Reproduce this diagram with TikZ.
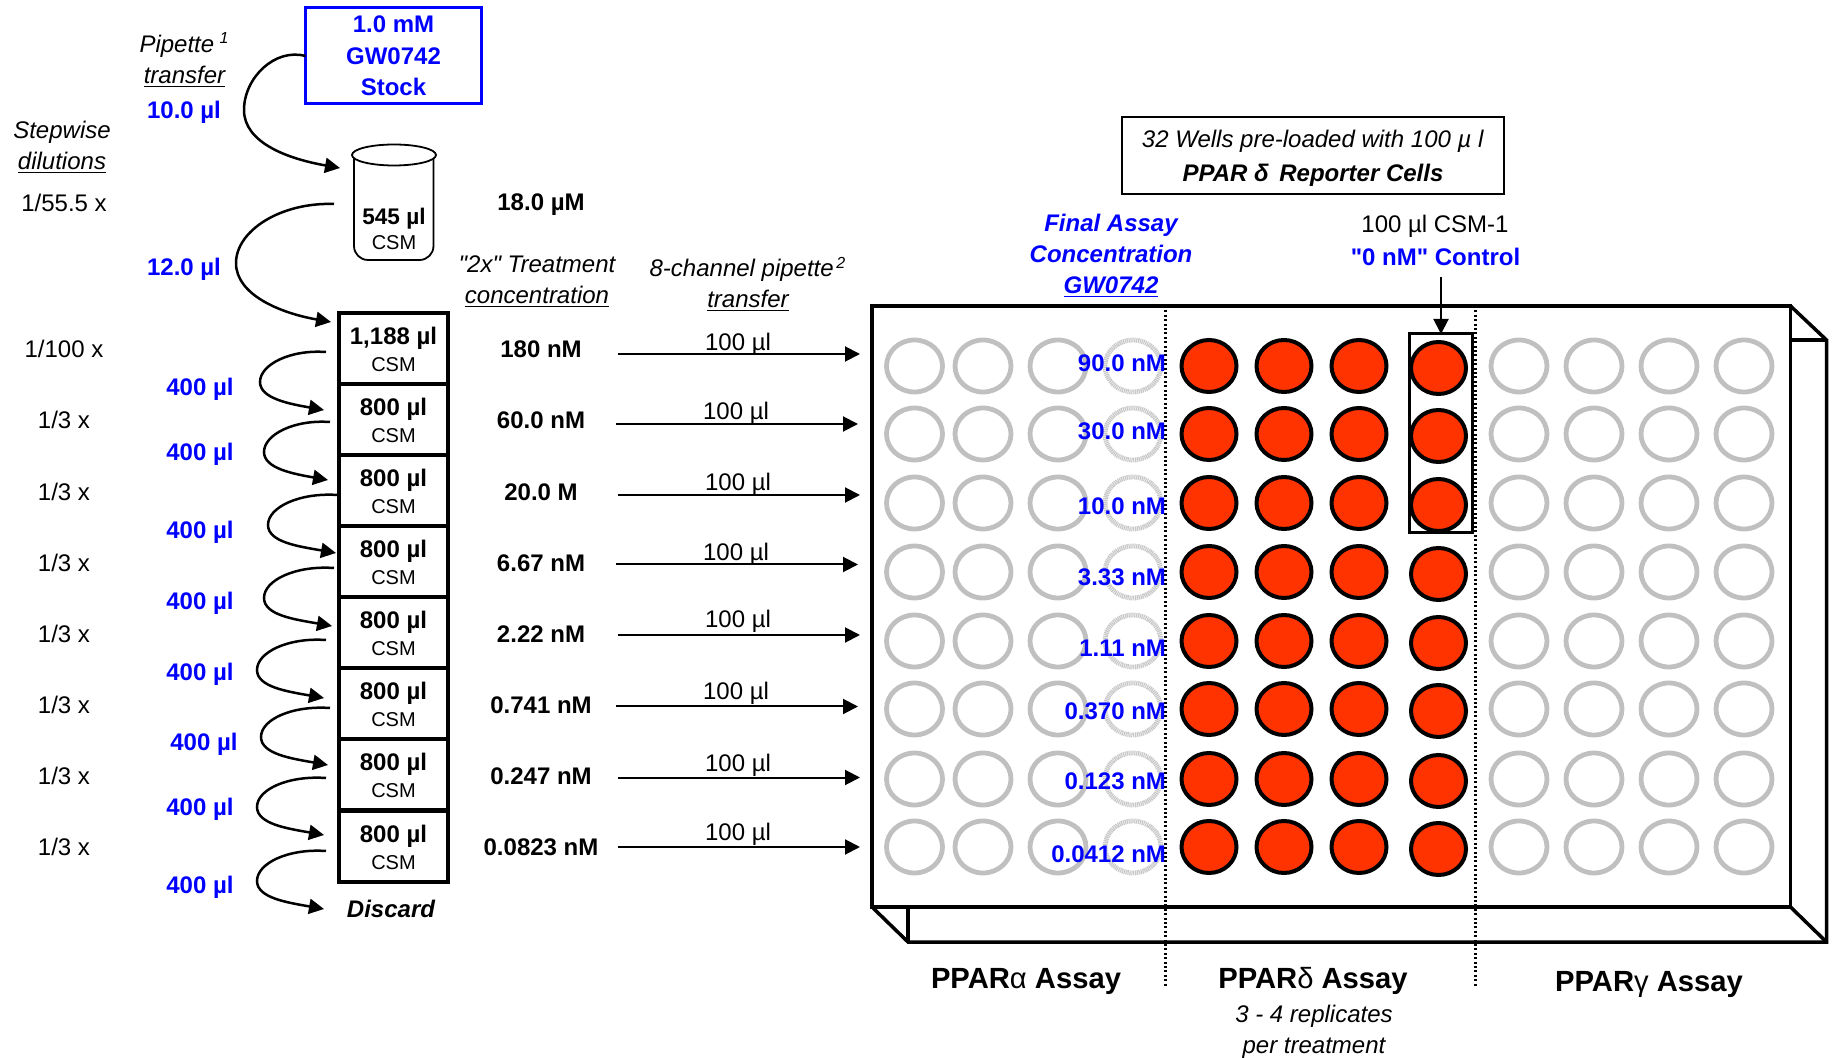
\documentclass[tikz,border=0pt]{standalone}
\usepackage{fontspec}
\setmainfont[Ligatures=TeXOff]{Liberation Sans}
\usetikzlibrary{arrows.meta,shapes.geometric}
\definecolor{pblue}{HTML}{0000FF}
\definecolor{wgray}{HTML}{C0C0C0}
\definecolor{wlight}{HTML}{C8C8C8}
\definecolor{wred}{HTML}{FF3300}
\tikzset{
  x=0.5pt,y=-0.5pt,
  every node/.style={inner sep=0pt,outer sep=0pt},
  lab/.style={font=\fontsize{12}{15.5}\selectfont,text height=8.6pt,text depth=0pt},
  multi/.style={font=\fontsize{12}{15.5}\selectfont,align=center},
  vollab/.style={lab,font=\fontsize{12}{15.5}\selectfont\bfseries,text=pblue},
  conc/.style={lab,font=\fontsize{12}{15.5}\selectfont\bfseries},
  final/.style={lab,font=\fontsize{12}{15.5}\selectfont\bfseries,text=pblue,anchor=east},
  assay/.style={lab,font=\fontsize{14.6}{16}\selectfont\bfseries},
  graywell/.style={ellipse,draw=wgray,line width=2.4pt,minimum width=28pt,minimum height=26pt},
  lightwell/.style={ellipse,draw=wlight,line width=2.4pt,dash pattern=on 0.6pt off 0.35pt,minimum width=28pt,minimum height=26pt},
  redwell/.style={ellipse,draw=black,fill=wred,line width=2pt,minimum width=27.5pt,minimum height=26pt},
  tube/.style={draw=black,line width=2pt,minimum width=54.5pt,minimum height=35.5pt,align=center,
    font=\fontsize{12}{13.5}\selectfont},
  curve/.style={line width=1.25pt,-{Triangle[length=7.5pt,width=7.5pt]}},
  straight/.style={line width=1pt,-{Triangle[length=7.5pt,width=7.5pt]}},
  plateline/.style={line width=1.75pt,line join=miter},
  divider/.style={line width=1.1pt,dash pattern=on 1pt off 1.2pt},
}
\begin{document}
\begin{tikzpicture}
\useasboundingbox (0,0) rectangle (1832,1058);

% wells
\foreach \r/\yy in {1/366,2/434,3/503,4/572,5/641,6/709,7/779,8/847}{
  \foreach \c/\xx in {1/914.5,2/983,3/1058,9/1519,10/1594,11/1669,12/1744}{
    \node[graywell] (w\c-\r) at (\xx,\yy) {};
  }
  \node[lightwell] (w4-\r) at (1133,\yy) {};
  \foreach \c/\xx in {5/1209,6/1284,7/1359}{
    \node[redwell] (w\c-\r) at (\xx,\yy) {};
  }
  \pgfmathsetmacro{\yb}{\yy+2}
  \node[redwell] (w8-\r) at (1438.5,\yb) {};
}

% plate
\draw[plateline] (872,306) rectangle (1790.5,907);
\draw[plateline] (1790.5,306) -- (1826.5,340) -- (1826.5,942) -- (908,942) -- (872,907);
\draw[plateline] (1790.5,340) -- (1826.5,340);
\draw[plateline] (908,907) -- (908,942);
\draw[plateline] (1790.5,907) -- (1826.5,942);
\draw[divider] (1165.5,306) -- (1165.5,988);
\draw[divider] (1475.5,306) -- (1475.5,988);

% control box
\node[draw=black,line width=1.5pt,minimum width=31.5pt,minimum height=99.5pt] (ctrl) at (1441,433.5) {};
\coordinate (ctrltop) at (1441,277);
\draw[straight] (ctrltop) -- (ctrl.north);

% stock and beaker
\node[draw=pblue,line width=1.5pt,minimum width=88pt,minimum height=48pt,multi,font=\fontsize{12}{15.75}\selectfont\bfseries,text=pblue] (stock) at (393.5,56) {1.0 mM\\GW0742\\Stock};
\draw[line width=0.9pt,rounded corners=7pt] (354,155) -- (354,260) -- (433.5,260) -- (433.5,155);
\node[ellipse,draw=black,line width=0.9pt,fill=white,minimum width=42pt,minimum height=10.5pt] (rim) at (394,155) {};
\node[lab,font=\fontsize{11.3}{14}\selectfont\bfseries] (bvol) at (394,216) {545 µl};
\node[lab,font=\fontsize{10}{12}\selectfont,text height=7pt] (bcsm) at (394,243) {CSM};

\coordinate (c1m) at (244,110);
\coordinate (c1e) at (340,168);
\draw[curve] (stock.west) to[out=165,in=90] (c1m) to[out=-90,in=170,out looseness=.75,in looseness=1.2] (c1e);
\coordinate (c2s) at (334,204);
\coordinate (c2m) at (236,263);
\coordinate (c2e) at (331,322);
\draw[curve] (c2s) to[out=178,in=90,out looseness=1.2,in looseness=.72] (c2m) to[out=-90,in=170,out looseness=.72,in looseness=1.2] (c2e);

% tube stack
\foreach \i/\yy/\vol in {1/348.5/{1,188 µl},2/419.5/800 µl,3/490.5/800 µl,4/561.5/800 µl,5/632.5/800 µl,6/703.5/800 µl,7/774.5/800 µl,8/846/800 µl}{
  \node[tube] (tube\i) at (393.5,\yy) {\rule{0pt}{10pt}\textbf{\vol}\\{\fontsize{10}{12}\selectfont CSM}};
}

% dilution loops
\foreach \i/\sx/\sy/\mx/\my/\ex/\ey in {1/326/352/260/382/324/410,2/330/422/264/452/328/480,3/338/495/268/525/336/553,4/334/568/264/598/332/626,5/326/640/257/670/324/698,6/330/708/261/737/328/765,7/326/778/257/807/324/835,8/326/851/257/881/324/909}{
  \coordinate (ls\i) at (\sx,\sy);
  \coordinate (lm\i) at (\mx,\my);
  \coordinate (le\i) at (\ex,\ey);
  \draw[curve] (ls\i) to[out=176,in=90,out looseness=1.3,in looseness=.6] (lm\i) to[out=-90,in=170,out looseness=.6,in looseness=1.3] (le\i);
}
\foreach \i/\xx/\yy in {1/200/387,2/200/452,3/200/530,4/200/601,5/200/672,6/204/742,7/200/807,8/200/885}{
  \node[vollab] (vl\i) at (\xx,\yy) {400 µl};
}
\node[vollab] (v10) at (184,110) {10.0 µl};
\node[vollab] (v12) at (184,267) {12.0 µl};

% left headers
\node[multi,font=\fontsize{12}{15.5}\selectfont\itshape] (pip) at (184.5,60) {Pipette\textsuperscript{\,\,1}\\\underline{transfer}};
\node[multi,font=\fontsize{12}{15.5}\selectfont\itshape] (step) at (62,147.5) {Stepwise\\\underline{dilutions}};
\node[lab] (d0) at (64,203) {1/55.5 x};
\node[lab] (d1) at (64,349) {1/100 x};
\foreach \i/\yy in {2/420,3/492,4/563,5/634,6/705,7/776,8/847}{
  \node[lab] (d\i) at (64,\yy) {1/3 x};
}

% concentrations
\node[conc] (c0) at (541,202) {18.0 µM};
\node[multi,font=\fontsize{12}{15.5}\selectfont\itshape] (trt) at (537,282) {"2x" Treatment\\\underline{concentration}};
\foreach \i/\yy/\txt in {1/349/180 nM,2/420/60.0 nM,3/492/20.0 M,4/563/6.67 nM,5/634/2.22 nM,6/705/0.741 nM,7/776/0.247 nM,8/847/0.0823 nM}{
  \node[conc] (c\i) at (541,\yy) {\txt};
}

% transfer arrows
\node[multi,font=\fontsize{12}{15.5}\selectfont\itshape] (eight) at (748,284.5) {8-channel pipette\textsuperscript{\,2}\\\underline{transfer}};
\foreach \i/\sx/\ex/\yy/\lx/\ly in {1/618/860/354/738/342,2/616/858/424/736/411,3/618/860/495/738/482,4/616/858/564.5/736/552,5/618/860/635/738/619,6/616/858/706.5/736/691,7/618/860/777.5/738/763,8/618/860/847/738/832}{
  \coordinate (as\i) at (\sx,\yy);
  \coordinate (ae\i) at (\ex,\yy);
  \draw[straight] (as\i) -- (ae\i);
  \node[lab] (hl\i) at (\lx,\ly) {100 µl};
}
\node[lab,font=\fontsize{12}{15.5}\selectfont\bfseries\itshape] (disc) at (391,909) {Discard};

% plate annotations
\node[draw=black,line width=1pt,minimum width=191pt,minimum height=38.5pt,multi,font=\fontsize{12}{17}\selectfont] (pre) at (1313,156) {\rule{0pt}{11pt}\textit{32 Wells pre-loaded with 100 µ l}\\\textbf{\textit{PPAR δ\, Reporter Cells}}};
\node[multi,font=\fontsize{12}{15.5}\selectfont\bfseries\itshape,text=pblue] (fin) at (1111,255.5) {Final Assay\\Concentration\\\underline{GW0742}};
\node[lab] (csm1) at (1435,224) {100 µl CSM-1};
\node[lab,font=\fontsize{12}{15.5}\selectfont\bfseries,text=pblue] (zero) at (1435.5,257) {"0 nM" Control};
\foreach \i/\yy/\txt in {1/363/90.0 nM,2/431/30.0 nM,3/506/10.0 nM,4/577/3.33 nM,5/648/1.11 nM,6/711/0.370 nM,7/781/0.123 nM,8/854/0.0412 nM}{
  \node[final] (f\i) at (1166,\yy) {\txt};
}

% assay labels
\node[assay] (aa) at (1026,980) {PPAR{\mdseries α} Assay};
\node[assay] (ad) at (1313,980) {PPAR{\mdseries δ} Assay};
\node[assay] (ag) at (1649,983) {PPAR{\mdseries γ} Assay};
\node[multi,font=\fontsize{12}{15.5}\selectfont\itshape] (rep) at (1314,1032) {3 - 4 replicates\\per treatment};
\end{tikzpicture}
\end{document}
